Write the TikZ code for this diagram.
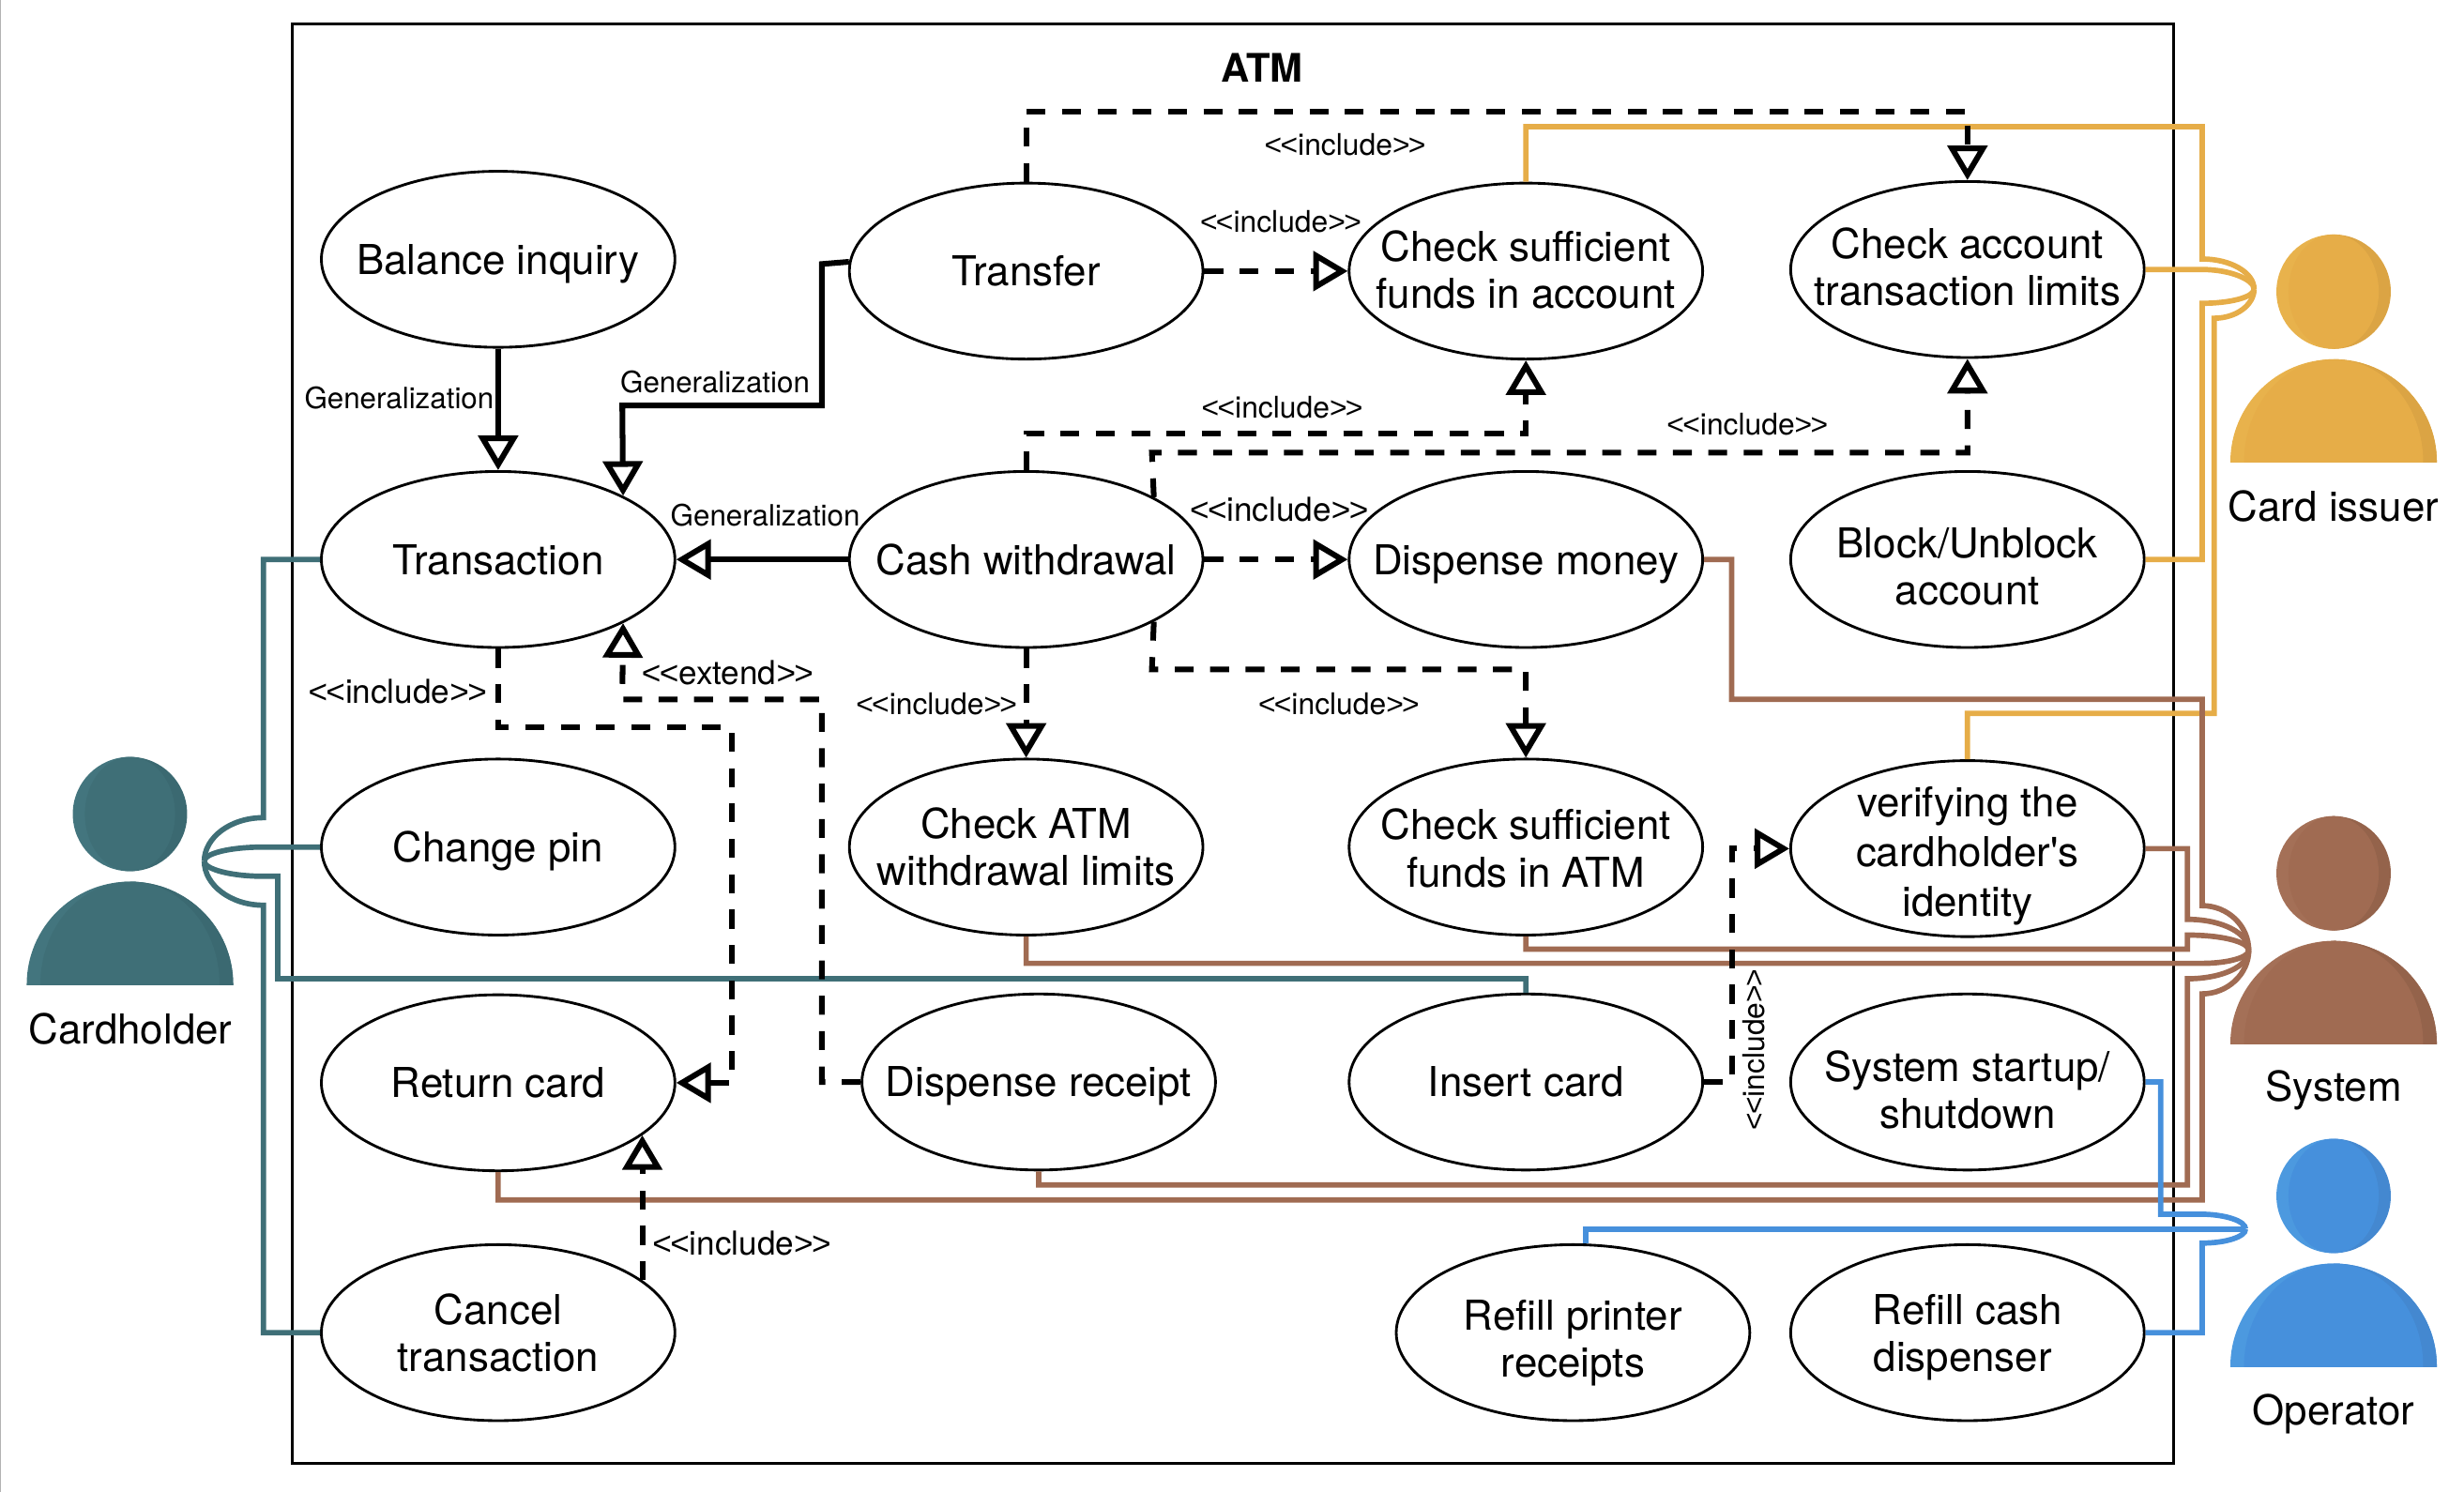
\documentclass[tikz,border=0pt]{standalone}
\usepackage{fontspec}
\setmainfont{TeX Gyre Heros}[Ligatures=TeXOff]
\newfontfamily\anglefont{Liberation Sans}[Ligatures=TeXOff]
\usetikzlibrary{shapes.geometric,arrows.meta}

\definecolor{holdercol}{HTML}{3F6F77}
\definecolor{holderlt}{HTML}{43757E}
\definecolor{holderdk}{HTML}{3B6971}
\definecolor{issuercol}{HTML}{E6AD48}
\definecolor{issuerlt}{HTML}{E8B24C}
\definecolor{issuerdk}{HTML}{DBA444}
\definecolor{systemcol}{HTML}{A06B52}
\definecolor{systemlt}{HTML}{A47057}
\definecolor{systemdk}{HTML}{94634B}
\definecolor{operatorcol}{HTML}{4690DC}
\definecolor{operatorlt}{HTML}{4C99DF}
\definecolor{operatordk}{HTML}{4488D0}

\tikzset{
    % the value is the distance from the centre down to the last baseline, doubled
    usecase/.style={shape=ellipse,draw=black,line width=1.7pt,minimum width=225pt,minimum height=112pt,
        inner sep=-30pt,align=center,font=\fontsize{26.2}{30}\selectfont,
        text height=#1pt,text depth=0pt},
    usecase/.default=19,
    gen/.style={draw=black,line width=3.6pt,-{Triangle[length=22pt,width=25pt,fill=white]}},
    incl/.style={gen,dash pattern=on 12pt off 10.5pt},
    lblbig/.style={inner sep=0pt,font=\fontsize{21}{24}\selectfont},
    lblinc/.style={inner sep=0pt,font=\fontsize{19}{22}\selectfont},
    lblsmall/.style={inner sep=0pt,font=\fontsize{18.7}{22}\selectfont},
    actorname/.style={inner sep=0pt,font=\fontsize{26.2}{30}\selectfont},
    holderline/.style={draw=holdercol,line width=3.4pt},
    issuerline/.style={draw=issuercol,line width=3.4pt},
    systemline/.style={draw=systemcol,line width=3.4pt},
    operatorline/.style={draw=operatorcol,line width=3.4pt},
}

\newcommand{\stereo}[1]{{\anglefont<\kern-1pt<}#1{\anglefont>\kern-1pt>}}

% head and body of an actor: x, y of head centre, colour name
\newcommand{\actorfig}[3]{
    \begin{scope}
        \clip (#1,#2) circle [radius=36.4pt];
        \fill[#3lt] (#1-37,#2-37) rectangle (#1,#2+37);
        \fill[#3dk] (#1,#2-37) rectangle (#1+37,#2+37);
        \fill[#3col] (#1,#2) ellipse [x radius=28.7pt,y radius=36.4pt];
    \end{scope}
    \begin{scope}
        \clip (#1-65.7,#2+43) rectangle (#1+65.7,#2+108.4);
        \fill[#3lt] (#1,#2+108.4) ellipse [x radius=65.7pt,y radius=65.4pt];
        \begin{scope}
            \clip (#1,#2+43) rectangle (#1+66,#2+108.4);
            \fill[#3dk] (#1,#2+108.4) ellipse [x radius=65.7pt,y radius=65.4pt];
        \end{scope}
        \fill[#3col] (#1,#2+108.4) ellipse [x radius=57pt,y radius=65.4pt];
    \end{scope}
}

\begin{document}
\begin{tikzpicture}[x=1pt,y=-1pt]
    \useasboundingbox (0,0) rectangle (1568,949.4);
    \draw[black!30,line width=1pt] (0.3,0) -- (0.3,949.4);

    \node[draw=black,line width=1.7pt,minimum width=1197pt,minimum height=916pt,inner sep=0pt] (atm) at (784.5,473.3) {};
    \node[inner sep=0pt,font=\fontsize{25}{30}\selectfont\bfseries] (atmtitle) at (803,43) {ATM};

    \actorfig{82.7}{518}{holder}
    \actorfig{1485}{185.6}{issuer}
    \actorfig{1485}{555.7}{system}
    \actorfig{1485}{761}{operator}
    \node[actorname] (holdername) at (83,655) {Cardholder};
    \node[actorname] (issuername) at (1485,322) {Card issuer};
    \node[actorname] (systemname) at (1485,694) {System};
    \node[actorname] (operatorname) at (1485,900) {Operator};

    \coordinate (holderport) at (130,548);
    \coordinate (issuerport) at (1434.4,184);
    \coordinate (systemport) at (1431,604.8);
    \coordinate (operatorport) at (1429,782);

    \node[usecase] (balance) at (317,165) {Balance inquiry};
    \node[usecase] (transfer) at (653,172.5) {Transfer};
    \node[usecase=47.8] (fundacc) at (971,172.5) {Check sufficient\\funds in account};
    \node[usecase=45.8] (acclimit) at (1252,171.5) {Check account\\transaction limits};
    \node[usecase] (trans) at (317,356) {Transaction};
    \node[usecase] (cash) at (653,356) {Cash withdrawal};
    \node[usecase] (dispmoney) at (971,356) {Dispense money};
    \node[usecase=57.8] (block) at (1252,356) {Block/Unblock\\account};
    \node[usecase] (pin) at (317,539) {Change pin};
    \node[usecase=48.8] (atmlimit) at (653,539) {Check ATM\\withdrawal limits};
    \node[usecase=50.8] (fundatm) at (971,539) {Check sufficient\\funds in ATM};
    \node[usecase=85.8] (verify) at (1252,540) {verifying the\\[1.5pt]cardholder's\\[1.5pt]identity};
    \node[usecase] (retcard) at (317,689) {Return card};
    \node[usecase] (receipt) at (661,688.5) {Dispense receipt};
    \node[usecase] (insert) at (971,688.5) {Insert card};
    \node[usecase=58.8] (startup) at (1252,688.5) {System startup/\\shutdown};
    \node[usecase=49.8] (cancel) at (317,848) {Cancel\\transaction};
    \node[usecase=56.8] (refillprn) at (1001,848) {Refill printer\\receipts};
    \node[usecase=49.8] (refillcash) at (1252,848) {Refill cash\\dispenser\hspace*{6pt}};

    % cardholder
    \draw[holderline] (trans.west) -- (167.6,356) -- (167.6,520.3) .. controls +(-21,0) and +(0,-15) .. (holderport);
    \draw[holderline] (pin.west) -- (167.6,539) .. controls +(-21,0) and +(0,-5) .. (holderport);
    \draw[holderline] (insert.north) -- (971,622.8) -- (176.7,622.8) -- (176.7,557.6) -- (167.6,557.6) .. controls +(-21,0) and +(0,5) .. (holderport);
    \draw[holderline] (cancel.west) -- (167.6,848) -- (167.6,576) .. controls +(-21,0) and +(0,15) .. (holderport);

    % card issuer
    \draw[issuerline] (fundacc.north) -- (971,80.6) -- (1401.4,80.6) -- (1401.4,164.8) .. controls +(18,0) and +(0,-10.6) .. (issuerport);
    \draw[issuerline] (acclimit.east) -- (1401.4,171.5) .. controls +(18,0) and +(0,-6) .. (issuerport);
    \draw[issuerline] (block.east) -- (1401.4,356) -- (1401.4,193) .. controls +(18,0) and +(0,5) .. (issuerport);
    \draw[issuerline] (verify.north) -- (1252,454) -- (1409,454) -- (1409,202.5) .. controls +(14,0) and +(0,10) .. (issuerport);

    % system
    \draw[systemline] (dispmoney.east) -- (1102,356) -- (1102,445) -- (1401.4,445) -- (1401.4,576.3) .. controls +(16,0) and +(0,-16) .. (systemport);
    \draw[systemline] (verify.east) -- (1392,540) -- (1392,585) .. controls +(22,0) and +(0,-11) .. (systemport);
    \draw[systemline] (fundatm.south) -- (971,604) -- (1392,604) -- (1392,595) .. controls +(22,0) and +(0,-5.5) .. (systemport);
    \draw[systemline] (atmlimit.south) -- (653,613) -- (1401.4,613) .. controls +(16,0) and +(0,4.5) .. (systemport);
    \draw[systemline] (receipt.south) -- (661,754) -- (1392,754) -- (1392,622.8) .. controls +(22,0) and +(0,10) .. (systemport);
    \draw[systemline] (retcard.south) -- (317,763.5) -- (1401.4,763.5) -- (1401.4,632.4) .. controls +(16,0) and +(0,15) .. (systemport);

    % operator
    \draw[operatorline] (startup.east) -- (1375,688.5) -- (1375,772.6) -- (1400,772.6) .. controls +(16,0) and +(0,-5) .. (operatorport);
    \draw[operatorline] (refillprn.82) |- (operatorport);
    \draw[operatorline] (refillcash.east) -- (1401.4,848) -- (1401.4,791) .. controls +(15,0) and +(0,5) .. (operatorport);

    \path [gen] (balance) edge (trans);
    \path [gen] (cash) edge (trans);
    \path [gen] (transfer.177) -- (523,168) -- (523,258) -- (396,258) -- (trans.27);
    \path [incl] (transfer.north) -- (653,71) -- (1252,71) -- (acclimit.north);
    \path [incl] (transfer) edge (fundacc);
    \path [incl] (cash.north) -- (653,276) -- (971,276) -- (fundacc.south);
    \path [incl] (cash.26) -- (733,288) -- (1252,288) -- (acclimit.south);
    \path [incl] (cash) edge (dispmoney);
    \path [incl] (cash) edge (atmlimit);
    \path [incl] (cash.-26) -- (733,426) -- (971,426) -- (fundatm.north);
    \path [incl] (trans.south) -- (317,463) -- (466,463) -- (466,689) -- (retcard.east);
    \path [incl] (receipt.west) -- (523,688.5) -- (523,445) -- (396,445) -- (trans.-27);
    \path [incl] (cancel.20) -- (retcard.-20);
    \path [incl] (insert.east) -- (1102,688.5) -- (1102,540) -- (verify.west);

    \node[lblsmall] (lgen1) at (254,253) {Generalization};
    \node[lblsmall] (lgen2) at (455,243) {Generalization};
    \node[lblsmall] (lgen3) at (487,328) {Generalization};
    \node[lblinc] (linc1) at (856,92) {\stereo{include}};
    \node[lblinc] (linc2) at (815,141) {\stereo{include}};
    \node[lblinc] (linc3) at (816,259) {\stereo{include}};
    \node[lblinc] (linc4) at (1112,270) {\stereo{include}};
    \node[lblbig] (linc5) at (814,324) {\stereo{include}};
    \node[lblinc] (linc6) at (596,448) {\stereo{include}};
    \node[lblinc] (linc7) at (852,448) {\stereo{include}};
    \node[lblbig] (linc8) at (253,440) {\stereo{include}};
    \node[lblbig] (lext) at (463,428) {\stereo{extend}};
    \node[lblbig] (linc9) at (472,791) {\stereo{include}};
    \node[lblinc,rotate=90] (linc10) at (1116,668) {\stereo{include}};
\end{tikzpicture}
\end{document}
